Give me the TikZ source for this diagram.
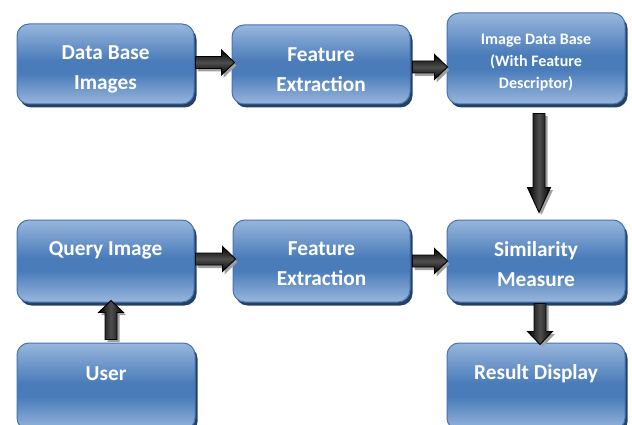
\documentclass[tikz,border=0pt]{standalone}
\usepackage{fontspec}
\setmainfont{Carlito}
\usetikzlibrary{calc,shadows}
\definecolor{bxlight}{RGB}{152,182,220}
\definecolor{bxdark}{RGB}{74,124,186}
\definecolor{bxedge}{RGB}{68,116,178}
\definecolor{bxshadow}{RGB}{38,64,100}
\definecolor{arrgray}{RGB}{78,78,78}
\definecolor{arrshadow}{RGB}{160,160,160}
\pgfdeclareverticalshading{boxshade}{100bp}{color(0bp)=(bxlight); color(25bp)=(bxlight); color(44bp)=(bxdark); color(52bp)=(bxdark); color(75bp)=(bxlight); color(100bp)=(bxlight)}
% horizontal block arrow polygon: xs, xt, y, dx, dy
\newcommand{\hpoly}[5]{(#1+#4, #3+6pt+#5) -- (#2-13pt+#4, #3+6pt+#5) -- (#2-13pt+#4, #3+12.5pt+#5) -- (#2+#4, #3+#5) -- (#2-13pt+#4, #3-12.5pt+#5) -- (#2-13pt+#4, #3-6pt+#5) -- (#1+#4, #3-6pt+#5) -- cycle}
% vertical block arrow polygon: x, ys, yt, headlen(signed), headhalf, dx, dy
\newcommand{\vpoly}[7]{(#1-6pt+#6, #2+#7) -- (#1-6pt+#6, #3+#4+#7) -- (#1-#5+#6, #3+#4+#7) -- (#1+#6, #3+#7) -- (#1+#5+#6, #3+#4+#7) -- (#1+6pt+#6, #3+#4+#7) -- (#1+6pt+#6, #2+#7) -- cycle}
% \harr{from}{to}{dy}{startoff}{tipoff}
\newcommand{\harr}[5]{%
  \path let \p1=(#1), \p2=(#2) in [fill=arrshadow] \hpoly{\x1+#4}{\x2+#5}{\y1+#3}{2pt}{-3pt};
  \path let \p1=(#1), \p2=(#2) in [draw=black, line width=0.9pt, top color=black, bottom color=black, middle color=arrgray] \hpoly{\x1+#4}{\x2+#5}{\y1+#3}{0pt}{0pt};
}
% \varr{from}{to}{dx}{startoff}{tipoff}{headlen signed}{headhalf}
\newcommand{\varr}[7]{%
  \path let \p1=(#1), \p2=(#2) in [fill=arrshadow] \vpoly{\x1+#3}{\y1+#4}{\y2+#5}{#6}{#7}{2.5pt}{-2.5pt};
  \path let \p1=(#1), \p2=(#2) in [draw=black, line width=0.9pt, left color=black, right color=black, middle color=arrgray] \vpoly{\x1+#3}{\y1+#4}{\y2+#5}{#6}{#7}{0pt}{0pt};
}
\tikzset{
  box/.style={rectangle, rounded corners=12pt, draw=bxedge, line width=1pt,
    shade, shading=boxshade,
    drop shadow={shadow xshift=2.5pt, shadow yshift=-3.5pt, fill=bxshadow, opacity=1},
    inner sep=0pt},
  lbl/.style={text=white, font=\fontsize{21.3}{30}\selectfont\bfseries, align=center, inner sep=0pt},
  smalltext/.style={font=\fontsize{16}{22}\selectfont\bfseries}
}
\begin{document}
\begin{tikzpicture}[x=1pt,y=1pt]
\useasboundingbox (0,0) rectangle (632,-425);
\clip (0,0) rectangle (632,-425);
% row 1
\node[box, minimum width=177pt, minimum height=80pt] (db) at (105.5,-64) {};
\node[box, minimum width=178pt, minimum height=79pt] (fe1) at (321,-64.5) {};
\node[box, minimum width=178pt, minimum height=91pt] (idb) at (536,-58.5) {};
% row 2
\node[box, minimum width=177pt, minimum height=82pt] (q) at (105.5,-261) {};
\node[box, minimum width=177pt, minimum height=82pt] (fe2) at (321.5,-261) {};
\node[box, minimum width=178pt, minimum height=82pt] (sim) at (536,-261) {};
% row 3
\node[box, minimum width=178pt, minimum height=87pt] (user) at (106,-386.5) {};
\node[box, minimum width=178pt, minimum height=87pt] (res) at (536,-386.5) {};
% texts
\node[lbl] (dbt) at ($(db.center)+(0,-5.5)$) {Data Base\\Images};
\node[lbl] (fe1t) at ($(fe1.center)+(0,-5)$) {Feature\\Extraction};
\node[lbl, smalltext] (idbt) at ($(idb.center)+(0,-4.5)$) {Image Data Base\\(With Feature\\Descriptor)};
\node[lbl] (qt) at ($(q.center)+(0,-3)$) {Query Image\\\mbox{}};
\node[lbl] (fe2t) at ($(fe2.center)+(0,-3)$) {Feature\\Extraction};
\node[lbl] (simt) at ($(sim.center)+(0,-3.5)$) {Similarity\\Measure};
\node[lbl] (usert) at ($(user.center)+(0,-2)$) {User\\\mbox{}};
\node[lbl] (rest) at ($(res.center)+(0,-1)$) {Result Display\\\mbox{}};
% arrows
\harr{db.east}{fe1.west}{1.5pt}{1pt}{3pt}
\harr{fe1.east}{idb.west}{-2.5pt}{2pt}{1pt}
\harr{q.east}{fe2.west}{2pt}{1pt}{3pt}
\harr{fe2.east}{sim.west}{0pt}{2pt}{1pt}
\varr{idb.south}{sim.north}{3pt}{-9pt}{7pt}{25pt}{11.5pt}
\varr{sim.south}{res.north}{4pt}{-1pt}{-2pt}{13pt}{12.5pt}
\varr{user.north}{q.south}{5pt}{3pt}{2pt}{-12pt}{12.5pt}
\end{tikzpicture}
\end{document}
